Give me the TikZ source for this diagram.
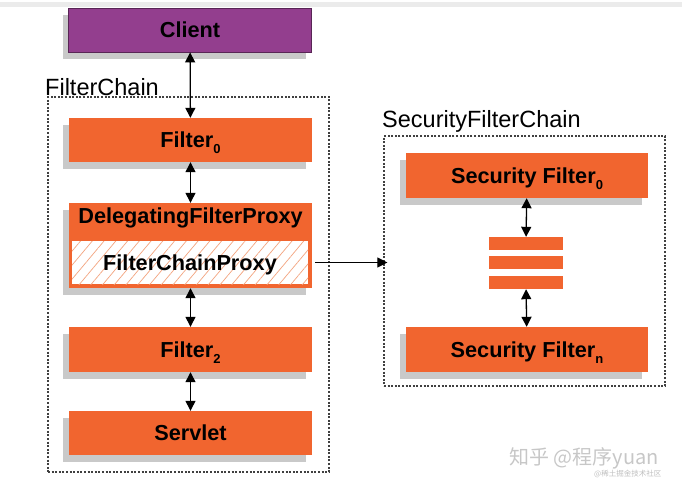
\documentclass[tikz,border=0pt]{standalone}
\usepackage{fontspec}
\setmainfont{Liberation Sans}
\newfontfamily\cjkfont{Noto Sans CJK SC}
\usepackage{tikz}
\usetikzlibrary{arrows.meta,positioning,shadows,patterns.meta}
\usepackage{xcolor}

\definecolor{springorange}{HTML}{F1652F}
\definecolor{clientpurple}{HTML}{933E8E}
\definecolor{shadowgray}{HTML}{C9C9C9}
\definecolor{hatchorange}{HTML}{F3A47F}

\newcommand{\idx}[1]{\raisebox{-6pt}{\fontsize{13}{13}\selectfont #1}}

\begin{document}
\begin{tikzpicture}[
    x=1pt, y=-1pt,
    >={Triangle[length=10pt,width=10pt]},
    filterbox/.style={
        rectangle,
        fill=springorange,
        inner sep=0pt,
        minimum width=243pt,
        minimum height=44pt,
        text height=15.6pt,
        text depth=0pt,
        font=\fontsize{21.7}{24}\selectfont\bfseries,
        general shadow={shadow xshift=-6pt, shadow yshift=-7pt, fill=shadowgray}
    },
    chain/.style={
        rectangle,
        draw=black!75,
        line width=1.2pt,
        dash pattern=on 2pt off 1.6pt,
        inner sep=0pt
    },
    chainlabel/.style={
        anchor=base west,
        inner sep=0pt,
        font=\fontsize{23.5}{26}\selectfont
    },
    bar/.style={
        rectangle,
        fill=springorange,
        inner sep=0pt,
        minimum width=74pt,
        minimum height=13pt
    },
    arr/.style={<->, line width=1.3pt}
]
\useasboundingbox (0,0) rectangle (698,477);

% screenshot edge
\fill[black!8] (0,2) rectangle (682,7);

% filter chain
\node[chain, minimum width=281pt, minimum height=375pt] (fc) at (188.5,284.5) {};
\node[chainlabel] (fclabel) at (45,95) {FilterChain};

\node[filterbox, fill=clientpurple, draw=clientpurple!60!black, line width=0.8pt] (client) at (190,30) {Client};
\node[filterbox] (f0) at (190.5,140) {Filter\idx{0}};

\node[filterbox, minimum height=85pt] (dfp) at (190.5,245.5) {};
\node[anchor=base, inner sep=0pt, font=\fontsize{21.7}{24}\selectfont\bfseries] (dfptitle) at (190.5,223) {DelegatingFilterProxy};
\node[rectangle, preaction={fill=white}, inner sep=0pt, minimum width=236pt, minimum height=43pt,
      pattern={Lines[angle=50,distance=9pt,line width=0.7pt]}, pattern color=hatchorange,
      text height=15.6pt, text depth=0pt,
      font=\fontsize{21.7}{24}\selectfont\bfseries] (fcp) at (190,262.5) {FilterChainProxy};

\node[filterbox, minimum height=45pt] (f2) at (190.5,349.5) {Filter\idx{2}};
\node[filterbox] (servlet) at (190.5,433) {Servlet};

\draw[arr] (client) -- (f0);
\draw[arr] (f0) -- (dfp);
\draw[arr] (dfp) -- (f2);
\draw[arr] (f2) -- (servlet);

% security filter chain
\node[chain, minimum width=281pt, minimum height=250pt] (sfc) at (524.5,261) {};
\node[chainlabel] (sfclabel) at (382,127) {SecurityFilterChain};

\node[filterbox, minimum width=242pt, minimum height=45pt] (sf0) at (527,175.5) {Security Filter\idx{0}};
\node[filterbox, minimum width=242pt, minimum height=45pt] (sfn) at (527,349.5) {Security Filter\idx{n}};

\node[bar] (bar1) at (526,243.5) {};
\node[bar] (bar2) at (526,262.5) {};
\node[bar] (bar3) at (526,282.5) {};

\draw[arr] (sf0) -- (bar1);
\draw[arr] (bar3) -- (sfn);

\draw[->, line width=1.1pt, shorten <=3pt, shorten >=-4pt] (dfp.east |- fcp.east) -- (sfc.west |- fcp.east);

% watermark
\node[anchor=base west, inner sep=0pt, text=black!22, font=\fontsize{20}{21}\selectfont\cjkfont] (wm) at (509,464) {知乎 @程序yuan};
\node[anchor=base west, inner sep=0pt, text=black!25, font=\fontsize{7.5}{8}\selectfont\cjkfont] (wmsub) at (594,476) {@稀土掘金技术社区};

\end{tikzpicture}
\end{document}
